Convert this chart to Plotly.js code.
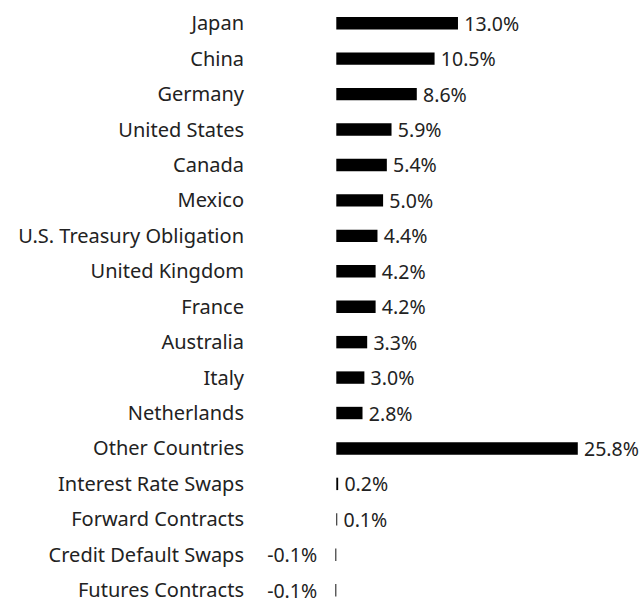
<!DOCTYPE html>
<html>
<head>
<meta charset="utf-8">
<script src="https://cdn.plot.ly/plotly-3.0.1.min.js"></script>
<style>html,body{margin:0;padding:0;background:#fff;}#chart{width:639px;height:598px;}</style>
</head>
<body>
<div id="chart"></div>
<script>
var categories = ["Japan","China","Germany","United States","Canada","Mexico","U.S. Treasury Obligation","United Kingdom","France","Australia","Italy","Netherlands","Other Countries","Interest Rate Swaps","Forward Contracts","Credit Default Swaps","Futures Contracts"];
var values = [13.0,10.5,8.6,5.9,5.4,5.0,4.4,4.2,4.2,3.3,3.0,2.8,25.8,0.2,0.1,-0.1,-0.1];

var labels = values.map(function(v){
  var s = v.toFixed(1) + "%";
  return v < 0 ? s + "\u00a0\u00a0\u00a0" : "\u2009" + s;
});

var trace = {
  type: "bar",
  orientation: "h",
  y: categories,
  x: values,
  text: labels,
  textposition: "outside",
  constraintext: "none",
  cliponaxis: false,
  textfont: {family: "Noto Sans", size: 19.5, color: "#222"},
  marker: {color: "#000", line: {width: 0}},
  width: 0.35,
  hoverinfo: "none"
};

var layout = {
  width: 639,
  height: 598,
  margin: {l: 250, r: 0, t: 0, b: 0, pad: 0},
  paper_bgcolor: "#fff",
  plot_bgcolor: "#fff",
  showlegend: false,
  font: {family: "Noto Sans", size: 19.5, color: "#222"},
  xaxis: {range: [-9.22, 32.34], showgrid: false, zeroline: false, showticklabels: false, showline: false, ticks: "", fixedrange: true},
  yaxis: {type: "category", range: [16.22, -0.655], showgrid: false, zeroline: false, showline: false, ticks: "", ticklabelstandoff: 5, automargin: false, tickfont: {family: "Noto Sans", size: 20, color: "#222"}, fixedrange: true}
};

Plotly.newPlot("chart", [trace], layout, {displayModeBar: false, staticPlot: true});
</script>
</body>
</html>
